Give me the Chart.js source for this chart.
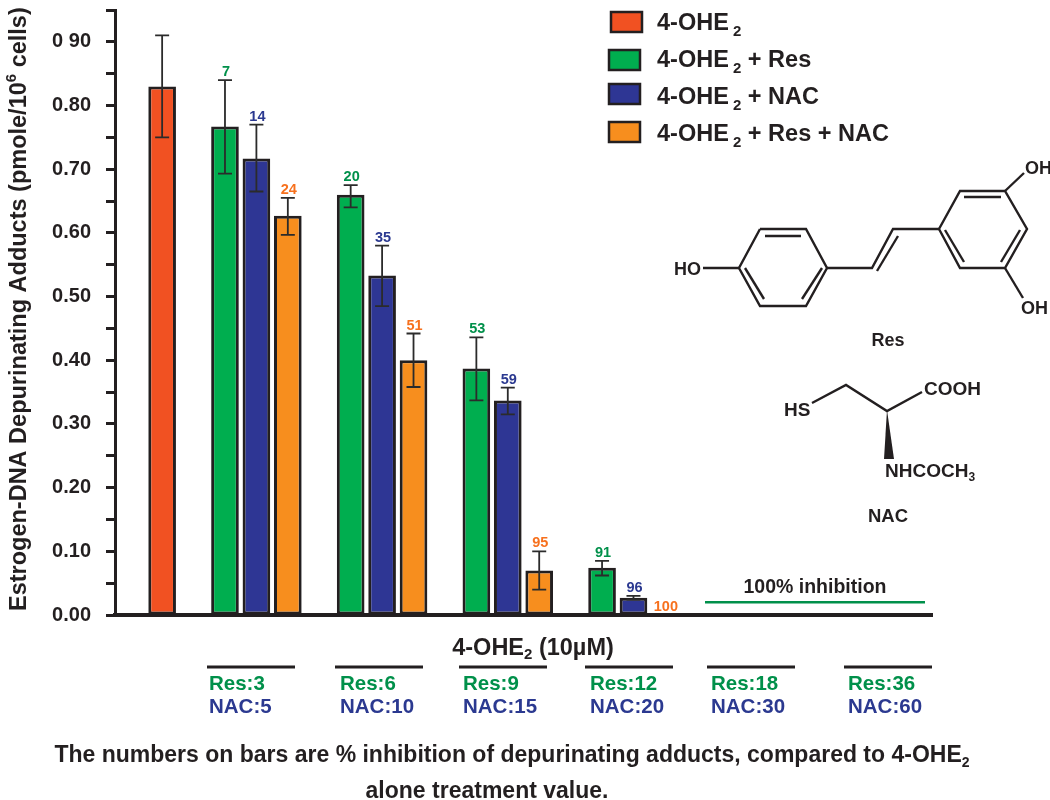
<!DOCTYPE html>
<html>
<head>
<meta charset="utf-8">
<title>Estrogen-DNA depurinating adducts</title>
<script src="https://cdn.jsdelivr.net/npm/chart.js@4"></script>
<style>
    html, body { margin: 0; padding: 0; background: #fff; }
    #wrap { position: relative; width: 1050px; height: 800px; }
</style>
</head>
<body>
<div id="wrap"><canvas id="adducts" width="1050" height="800"></canvas></div>
<script>
// 26 equal slots along the x axis; each bar takes one of them
const slots = Array.from({ length: 26 }, (_, i) => String(i));
const yTickLabels = ['0.00', '0.10', '0.20', '0.30', '0.40', '0.50', '0.60', '0.70', '0.80', '0 90'];

const seriesNames = ['4-OHE', '4-OHE', '4-OHE', '4-OHE'];
const seriesSuffix = ['', ' + Res', ' + NAC', ' + Res + NAC'];

// 4-OHE2 alone
const oheSlot = 1;
const oheValue = 0.83;
const oheHigh = 0.91;
const oheLow = 0.75;

// first slot of each dose group (Res, NAC, Res + NAC sit side by side)
const groupSlots = [3, 7, 11, 15];

const resValues = [0.767, 0.66, 0.387, 0.074];
const resHigh = [0.84, 0.675, 0.436, 0.085];
const resLow = [0.693, 0.64, 0.337, 0.062];
const resPct = ['7', '20', '53', '91'];

const nacValues = [0.717, 0.533, 0.337, 0.027];
const nacHigh = [0.77, 0.58, 0.357, 0.03];
const nacLow = [0.665, 0.485, 0.315, 0.024];
const nacPct = ['14', '35', '59', '96'];

const comboValues = [0.627, 0.40, 0.07, 0];
const comboHigh = [0.655, 0.442, 0.10, 0];
const comboLow = [0.597, 0.358, 0.04, 0];
const comboPct = ['24', '51', '95', '100'];

const resDoses = ['Res:3', 'Res:6', 'Res:9', 'Res:12', 'Res:18', 'Res:36'];
const nacDoses = ['NAC:5', 'NAC:10', 'NAC:15', 'NAC:20', 'NAC:30', 'NAC:60'];
const fullInhibitionLevel = 0.02;

// colours
const INK = '#231f20';
const RED = '#f15122';
const GREEN = '#00ae4f';
const NAVY = '#2e3694';
const ORANGE = '#f78e1e';
const GREEN_TEXT = '#00904a';
const NAVY_TEXT = '#2b3990';
const ORANGE_TEXT = '#f7711e';
const FONT = '"Liberation Sans", Arial, sans-serif';

// layout of the decorations outside the plot
const groupLineX = [207, 335, 459, 585, 707, 844];
const groupLabelX = [209, 340, 463, 590, 711, 848];
const groupLineWidth = 88;
const legendSwatches = [[611, 12], [609, 50], [609, 84], [609, 122]];
const legendBaselines = [30, 67, 104, 141];

// Res and NAC structure drawings, in picture pixels
const resBonds = [
    [[760, 229], [806, 229], [827, 268], [806, 306], [760, 306], [739, 268], [760, 229]],
    [[765, 236], [801, 236]], [[745, 268], [764, 299]], [[822, 268], [802, 299]],
    [[703, 268], [739, 268]],
    [[827, 268], [872, 268], [893, 229], [939, 229]],
    [[877, 271], [898, 236]],
    [[939, 229], [960, 191], [1005, 191], [1027, 229], [1005, 268], [960, 268], [939, 229]],
    [[964, 197], [1001, 197]], [[945, 230], [964, 262]], [[1020, 230], [1001, 262]],
    [[1005, 191], [1024, 173]], [[1005, 268], [1023, 298]]
];
const nacBonds = [
    [[812, 403], [846, 385], [887, 411], [922, 392]]
];

// draws text pieces one after the other, returns the end x
function drawRuns(ctx, x, y, runs, align) {
    let total = 0;
    runs.forEach(r => {
        ctx.font = r.font;
        total += ctx.measureText(r.text).width;
    });
    let cx = align === 'center' ? x - total / 2 : x;
    ctx.textAlign = 'left';
    ctx.textBaseline = 'alphabetic';
    runs.forEach(r => {
        ctx.font = r.font;
        ctx.fillText(r.text, cx, y + (r.dy || 0));
        cx += ctx.measureText(r.text).width;
    });
    return cx;
}

function plainText(ctx, text, x, y, size, color, align) {
    ctx.fillStyle = color;
    ctx.font = `bold ${size}px ${FONT}`;
    ctx.textAlign = align || 'center';
    ctx.textBaseline = 'alphabetic';
    ctx.fillText(text, x, y);
}

function strokePath(ctx, pts, width, color) {
    ctx.strokeStyle = color;
    ctx.lineWidth = width;
    ctx.lineJoin = 'miter';
    ctx.beginPath();
    pts.forEach((p, i) => (i ? ctx.lineTo(p[0], p[1]) : ctx.moveTo(p[0], p[1])));
    ctx.stroke();
}

// error bars and % inhibition numbers, placed through the chart scales
const errorBarPlugin = {
    id: 'errorBars',
    afterDatasetsDraw(chart) {
        const { ctx, scales: { x, y } } = chart;
        const drawError = (slot, high, low) => {
            if (high === low) return;
            const px = x.getPixelForValue(slot);
            const top = y.getPixelForValue(high);
            const bottom = y.getPixelForValue(low);
            ctx.strokeStyle = '#2b2b2b';
            ctx.lineWidth = 1.8;
            ctx.beginPath();
            ctx.moveTo(px, top); ctx.lineTo(px, bottom);
            ctx.moveTo(px - 7, top); ctx.lineTo(px + 7, top);
            ctx.moveTo(px - 7, bottom); ctx.lineTo(px + 7, bottom);
            ctx.stroke();
        };
        const drawPct = (slot, high, text, color) => {
            plainText(ctx, text, x.getPixelForValue(slot) + 1, y.getPixelForValue(high) - 4, 14.5, color);
        };
        ctx.save();
        drawError(oheSlot, oheHigh, oheLow);
        groupSlots.forEach((slot, i) => {
            drawError(slot, resHigh[i], resLow[i]);
            drawError(slot + 1, nacHigh[i], nacLow[i]);
            drawError(slot + 2, comboHigh[i], comboLow[i]);
            drawPct(slot, resHigh[i], resPct[i], GREEN_TEXT);
            drawPct(slot + 1, nacHigh[i], nacPct[i], NAVY_TEXT);
            drawPct(slot + 2, comboHigh[i], comboPct[i], ORANGE_TEXT);
        });

        // flat line for the two top doses with no adducts left
        const lineY = y.getPixelForValue(fullInhibitionLevel);
        strokePath(ctx, [[705, lineY], [925, lineY]], 2.5, GREEN_TEXT);
        plainText(ctx, '100% inhibition', 815, lineY - 9, 19.5, INK);
        ctx.restore();
    }
};

// legend, axis title, dose labels, caption, structures
const decorPlugin = {
    id: 'decor',
    afterDraw(chart) {
        const { ctx } = chart;
        const big = `bold 23.5px ${FONT}`;
        const sub = `bold 15px ${FONT}`;
        ctx.save();

        // legend
        [RED, GREEN, NAVY, ORANGE].forEach((color, i) => {
            const [sx, sy] = legendSwatches[i];
            ctx.fillStyle = color;
            ctx.fillRect(sx, sy, 31, 20);
            ctx.strokeStyle = INK;
            ctx.lineWidth = 2.5;
            ctx.strokeRect(sx, sy, 31, 20);
            ctx.fillStyle = INK;
            drawRuns(ctx, 657, legendBaselines[i], [
                { text: seriesNames[i], font: big },
                { text: ' 2', font: sub, dy: 6 },
                { text: seriesSuffix[i], font: big }
            ]);
        });

        // y axis title
        ctx.save();
        ctx.translate(26, 611);
        ctx.rotate(-Math.PI / 2);
        ctx.fillStyle = INK;
        drawRuns(ctx, 0, 0, [
            { text: 'Estrogen-DNA Depurinating Adducts (pmole/10', font: `bold 23.5px ${FONT}` },
            { text: '6', font: `bold 15px ${FONT}`, dy: -10 },
            { text: ' cells)', font: `bold 23.5px ${FONT}` }
        ]);
        ctx.restore();

        // x axis title
        ctx.fillStyle = INK;
        drawRuns(ctx, 533, 655, [
            { text: '4-OHE', font: `bold 23.5px ${FONT}` },
            { text: '2', font: `bold 15px ${FONT}`, dy: 4 },
            { text: ' (10\u00b5M)', font: `bold 23.5px ${FONT}` }
        ], 'center');

        // dose groups
        groupLineX.forEach((lx, i) => {
            strokePath(ctx, [[lx, 667], [lx + groupLineWidth, 667]], 3, INK);
            plainText(ctx, resDoses[i], groupLabelX[i], 690, 20.5, GREEN_TEXT, 'left');
            plainText(ctx, nacDoses[i], groupLabelX[i], 713, 20.5, NAVY_TEXT, 'left');
        });

        // caption
        ctx.fillStyle = INK;
        drawRuns(ctx, 512, 762, [
            { text: 'The numbers on bars are % inhibition of depurinating adducts, compared to 4-OHE', font: `bold 23px ${FONT}` },
            { text: '2', font: `bold 14px ${FONT}`, dy: 5 }
        ], 'center');
        plainText(ctx, 'alone treatment value.', 487, 798, 23, INK);

        // Res structure
        resBonds.forEach(b => strokePath(ctx, b, 2.4, INK));
        plainText(ctx, 'HO', 701, 275, 18, INK, 'right');
        plainText(ctx, 'OH', 1025, 174, 18, INK, 'left');
        plainText(ctx, 'OH', 1021, 314, 18, INK, 'left');
        plainText(ctx, 'Res', 888, 346, 18, INK);

        // NAC structure
        nacBonds.forEach(b => strokePath(ctx, b, 2.4, INK));
        ctx.fillStyle = INK;
        ctx.beginPath();
        ctx.moveTo(887, 410); ctx.lineTo(884, 459); ctx.lineTo(894, 459);
        ctx.closePath();
        ctx.fill();
        plainText(ctx, 'HS', 784, 416, 19, INK, 'left');
        plainText(ctx, 'COOH', 924, 395, 19, INK, 'left');
        ctx.fillStyle = INK;
        drawRuns(ctx, 885, 477, [
            { text: 'NHCOCH', font: `bold 19px ${FONT}` },
            { text: '3', font: `bold 12px ${FONT}`, dy: 4 }
        ]);
        plainText(ctx, 'NAC', 888, 522, 18.5, INK);
        ctx.restore();
    }
};

// places one series' values into its slots of the shared axis
function slotData(values, offset) {
    const data = slots.map(() => null);
    values.forEach((v, i) => { data[groupSlots[i] + offset] = v; });
    return data;
}

function barDataset(label, data, color) {
    return {
        label: label,
        data: data,
        backgroundColor: color,
        borderColor: INK,
        borderWidth: 3,
        borderSkipped: false,
        barPercentage: 0.88,
        categoryPercentage: 1
    };
}

const oheData = slots.map(() => null);
oheData[oheSlot] = oheValue;

new Chart(document.getElementById('adducts'), {
    type: 'bar',
    data: {
        labels: slots,
        datasets: [
            barDataset('4-OHE2', oheData, RED),
            barDataset('4-OHE2 + Res', slotData(resValues, 0), GREEN),
            barDataset('4-OHE2 + NAC', slotData(nacValues, 1), NAVY),
            barDataset('4-OHE2 + Res + NAC', slotData(comboValues, 2), ORANGE)
        ]
    },
    options: {
        responsive: false,
        animation: false,
        grouped: false,
        layout: { padding: { top: 10, right: 118, bottom: 185, left: 0 } },
        plugins: {
            legend: { display: false },
            tooltip: { enabled: false }
        },
        scales: {
            x: {
                ticks: { display: false },
                grid: { display: false },
                border: { display: true, color: INK, width: 4 },
                afterFit(scale) { scale.height = 0; }
            },
            y: {
                min: 0,
                max: 0.95,
                ticks: {
                    stepSize: 0.05,
                    autoSkip: false,
                    padding: 15,
                    color: INK,
                    font: { size: 20, weight: 'bold', family: FONT },
                    callback: (value, i) => (i % 2 === 0 ? yTickLabels[i / 2] : '')
                },
                grid: {
                    drawOnChartArea: false,
                    drawTicks: true,
                    tickLength: 9,
                    tickWidth: 3,
                    tickColor: INK
                },
                border: { color: INK, width: 3 },
                afterFit(scale) {
                    scale.width = 115;
                    scale.paddingTop = 0;
                    scale.paddingBottom = 0;
                }
            }
        }
    },
    plugins: [errorBarPlugin, decorPlugin]
});
</script>
</body>
</html>
